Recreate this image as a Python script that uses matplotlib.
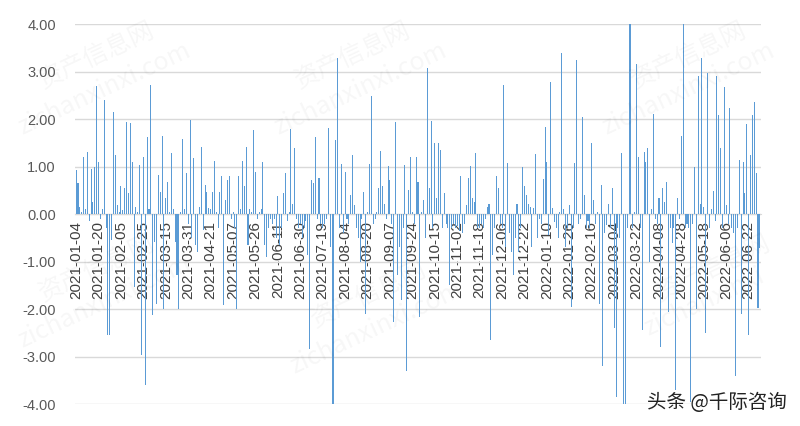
import numpy as np
import matplotlib
matplotlib.use("Agg")
import matplotlib.pyplot as plt

# === 數據 ===
# 2021 (HK trading days, 2021-01-04 .. 2021-12-31)
values_2021 = [
    0.93, 0.65, 0.15, 0.05, 1.19, 0.10, 1.31, -0.15, 0.95, 0.25,
    1.00, 2.70, 1.09, -0.10, 0.10, 2.40, -0.30, -2.55, -2.55, -0.55,
    2.15, 1.24, 0.20, 0.05, 0.60, 0.08, 0.55, 1.93, 0.45, 1.91,
    1.10, -1.53, 0.15, 0.05, 1.03, -2.97, 1.20, -3.60, 1.63, 0.10,
    2.72, -2.13, -0.58, -1.90, 0.82, 0.47, 1.65, -2.00, 0.33, 0.68,
    0.05, 1.28, 0.10, -0.58, -1.28, -2.00, 0.05, 1.58, 0.10, 0.86,
    -0.20, 1.98, -0.50, 1.17, -0.65, -0.80, 0.15, 1.42, -0.34, 0.61,
    0.47, 0.12, 0.10, 0.47, 1.12, 0.05, -0.30, 0.47, 0.79, -1.92,
    0.30, 0.72, 0.79, -0.10, 0.05, -0.30, -2.00, 0.79, 0.10, 1.12,
    0.58, 1.42, -0.65, 0.10, 0.05, 1.77, 0.89, -0.10, 0.05, 0.10,
    1.09, -0.65, -0.90, -0.30, -0.10, -0.20, -0.10, -0.50, 0.37, -0.65,
    -0.30, 0.44, 0.86, -0.15, 0.05, 1.79, 0.22, 1.40, -0.10, -0.30,
    -0.20, -0.50, -0.30, -0.15, -0.86, -2.85, 0.72, 0.65, 1.63, -0.10,
    0.75, -0.20, -0.30, -0.20, -0.10, 1.82, -0.70, -4.00, -4.00, 1.55,
    3.28, -0.30, 1.05, -0.40, 0.89, -0.10, -0.20, 0.40, 1.24, 0.19,
    -0.30, -0.50, -1.00, -0.10, 0.47, -2.10, 0.05, 1.05, 2.49, -0.20,
    -0.10, 0.05, 0.54, 1.33, 0.58, 0.22, -0.10, 1.02, 0.72, -0.20,
    -2.27, 1.93, -1.28, -0.70, -1.81, -0.30, 1.03, -3.30, 0.50, 1.20,
    0.05, -0.20, 1.20, 0.68, -2.16, 0.05, 0.30, -0.50, 3.07, 0.54,
    1.96, -0.30, 1.49, 0.33, 1.49, 1.35, -0.30, 0.44, -0.20, -0.30,
    -1.50, -0.30, -0.20, -0.30, -0.25, -0.35, 0.80, -0.40, -0.20, 0.19,
    0.75, 1.02, 0.33, 0.26, 1.28, -0.30, -0.30, -0.20, -0.30, -0.10,
    0.15, 0.22, -2.65, -0.86, -0.30, 0.79, 0.55, -0.20, -0.30, 2.72,
    -0.70, 1.08, -0.40, -0.80, -1.28, -0.50, 0.22, -0.80, -0.30, 1.00,
    0.58, 0.40, 0.22, 0.15, -0.70, 0.12, 1.26,
]
# 2022 (2022-01-03 .. 2022-06-30)
values_2022 = [
    -0.50, -0.10, -0.20, 0.74, 1.84, 1.10, -0.44, 2.79, 0.12, -0.16,
    -0.30, -0.50, 0.05, 3.40, 0.10, -0.70, -0.30, 0.19, -1.95, -0.30,
    1.07, 3.24, -0.20, -0.10, 2.05, 0.40, -0.30, -0.15, -0.30, 1.49,
    0.30, -0.20, 0.05, -1.90, 0.61, -3.20, -0.40, -0.23, 0.22, -0.30,
    0.54, -2.40, -3.85, -0.30, -0.50, 1.28, -4.00, -4.00, -0.30, 4.00,
    4.00, -0.30, 0.05, 3.15, 1.20, -0.30, -2.45, 1.31, 1.10, 1.38,
    -1.00, 0.10, 2.10, -0.10, -0.20, 0.33, -2.80, 0.54, 0.25, 0.68,
    -2.06, -0.30, -0.60, -0.30, -3.70, 0.34, -0.10, 1.65, 4.00, -0.30,
    -0.20, -0.30, -3.95, -0.20, 1.00, -2.00, 2.90, 0.22, 3.28, 0.15,
    -2.50, 2.96, -0.30, 0.10, 0.48, -0.15, 2.90, 2.08, 1.40, -0.30,
    2.68, 0.20, -0.20, 2.23, -0.30, -0.40, -3.40, -0.30, 1.14, -2.10,
    1.10, 0.44, 1.89, -2.55, 1.24, 2.08, 2.35, 0.86, -1.98, -0.72,
]
tick_labels = [
    "2021-01-04", "2021-01-20", "2021-02-05", "2021-02-25", "2021-03-15",
    "2021-03-31", "2021-04-21", "2021-05-07", "2021-05-26", "2021-06-11",
    "2021-06-30", "2021-07-19", "2021-08-04", "2021-08-20", "2021-09-07",
    "2021-09-24", "2021-10-15", "2021-11-02", "2021-11-18", "2021-12-06",
    "2021-12-22", "2022-01-10", "2022-01-26", "2022-02-16", "2022-03-04",
    "2022-03-22", "2022-04-08", "2022-04-28", "2022-05-18", "2022-06-06",
    "2022-06-22",
]
tick_step = 12
y_ticks = [4, 3, 2, 1, 0, -1, -2, -3, -4]

values = np.array(values_2021 + values_2022)
x = np.arange(len(values))

plt.rcParams['font.family'] = ['Liberation Sans', 'Noto Sans CJK SC', 'DejaVu Sans']

fig = plt.figure(figsize=(8, 4.26), dpi=100)
ax = fig.add_axes([0.094, 0.0516, 0.857, 0.892])

# 浮水印
wm_kw = dict(color='#000000', alpha=0.035, rotation=25, fontsize=18,
             family=['Noto Sans CJK SC', 'DejaVu Sans'], ha='center', va='center')
for (wx, wy, t) in [(0.12, 0.87, "资产信息网"), (0.13, 0.79, "zichanxinxi.com"),
                    (0.44, 0.87, "资产信息网"), (0.45, 0.79, "zichanxinxi.com"),
                    (0.86, 0.87, "资产信息网"), (0.86, 0.79, "zichanxinxi.com"),
                    (0.12, 0.37, "资产信息网"), (0.13, 0.29, "zichanxinxi.com"),
                    (0.46, 0.31, "资产信息网"), (0.47, 0.23, "zichanxinxi.com"),
                    (0.89, 0.37, "资产信息网"), (0.88, 0.29, "zichanxinxi")]:
    fig.text(wx, wy, t, **wm_kw)

ax.bar(x, values, width=0.55, color='#5B9BD5', linewidth=0, zorder=3)

ax.set_xlim(-0.5, len(values) - 0.5)
ax.set_ylim(-4, 4)
ax.spines['bottom'].set_position(('data', 0))
ax.spines['bottom'].set_color('#D9D9D9')
for s in ['top', 'right', 'left']:
    ax.spines[s].set_visible(False)

ax.set_yticks(y_ticks)
ax.set_yticklabels([f"{v:.2f}" for v in y_ticks])
ax.yaxis.grid(True, color='#D9D9D9', linewidth=1, zorder=0)
ax.set_axisbelow(True)

ax.set_xticks(x[::tick_step][:len(tick_labels)])
ax.set_xticklabels(tick_labels)

ax.tick_params(axis='y', length=0, labelsize=10.5, labelcolor='#595959', pad=14)
ax.tick_params(axis='x', length=0, labelsize=11, labelcolor='#404040', pad=5,
               labelrotation=90)

fig.text(0.984, 0.054, "头条 @千际咨询", fontsize=14, color='#222222', ha='right', va='center',
         family=['Noto Sans CJK SC', 'DejaVu Sans'])

fig.savefig("out.png", dpi=100)
